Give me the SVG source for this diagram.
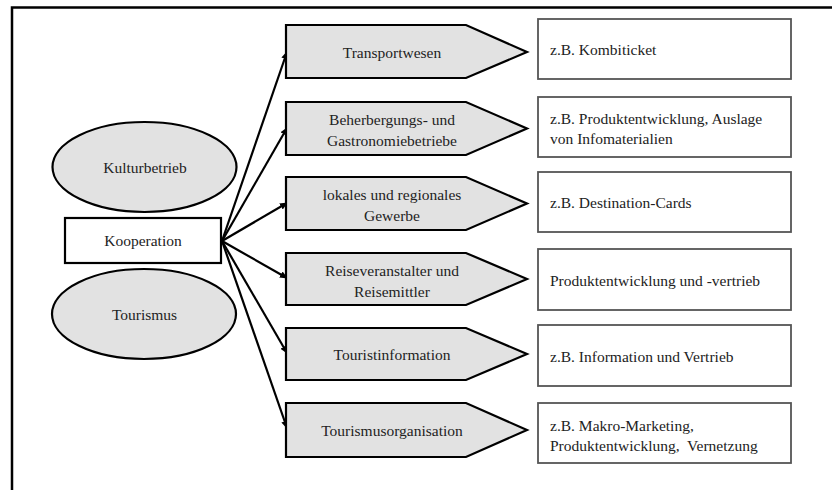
<svg xmlns="http://www.w3.org/2000/svg" width="832" height="490" viewBox="0 0 832 490">
<style>
text{font-family:"Liberation Serif","Times New Roman",serif;font-size:15.5px;fill:#222}
.c{text-anchor:middle}
.sh{fill:#e2e2e2;stroke:#000;stroke-width:2.2}
.bx{fill:#fff;stroke:#555;stroke-width:1.8}
.ln{stroke:#000;stroke-width:2.2;fill:none;marker-end:url(#ah)}
</style>
<defs>
<marker id="ah" markerWidth="8" markerHeight="8" refX="7" refY="4" orient="auto" markerUnits="userSpaceOnUse">
<path d="M0,0.5 L8,4 L0,7.5 Z" fill="#000"/>
</marker>
</defs>
<rect width="832" height="490" fill="#fff"/>
<g id="frame"><path d="M12,490 V7.5 H832" fill="none" stroke="#000" stroke-width="2.5"/></g>

<g id="connectors">
<line class="ln" x1="222" y1="241" x2="287" y2="52"/>
<line class="ln" x1="222" y1="241" x2="287" y2="128"/>
<line class="ln" x1="222" y1="241" x2="287" y2="203"/>
<line class="ln" x1="222" y1="241" x2="287" y2="278"/>
<line class="ln" x1="222" y1="241" x2="287" y2="353"/>
<line class="ln" x1="222" y1="241" x2="287" y2="428"/>
</g>

<g id="kulturbetrieb"><ellipse class="sh" cx="144.5" cy="167" rx="92" ry="45"/><text class="c" x="145" y="173">Kulturbetrieb</text></g>
<g id="kooperation"><rect x="65" y="218" width="156" height="45" fill="#fff" stroke="#000" stroke-width="2.2"/><text class="c" x="143" y="246">Kooperation</text></g>
<g id="tourismus"><ellipse class="sh" cx="144" cy="314" rx="92" ry="45"/><text class="c" x="144.5" y="320">Tourismus</text></g>

<g id="p1"><polygon class="sh" points="286,25 466,25 527,52 466,78 286,78"/><text class="c" x="392" y="58">Transportwesen</text></g>
<g id="p2"><polygon class="sh" points="286,102 466,102 527,128.5 466,155 286,155"/><text class="c" x="392" y="125">Beherbergungs- und</text><text class="c" x="392" y="146">Gastronomiebetriebe</text></g>
<g id="p3"><polygon class="sh" points="286,177 466,177 527,203.5 466,230 286,230"/><text class="c" x="392" y="200">lokales und regionales</text><text class="c" x="392" y="221">Gewerbe</text></g>
<g id="p4"><polygon class="sh" points="286,253 466,253 527,279 466,305 286,305"/><text class="c" x="392" y="276">Reiseveranstalter und</text><text class="c" x="392" y="297">Reisemittler</text></g>
<g id="p5"><polygon class="sh" points="286,328 466,328 527,354 466,380 286,380"/><text class="c" x="392" y="360">Touristinformation</text></g>
<g id="p6"><polygon class="sh" points="286,403 466,403 527,430 466,457 286,457"/><text class="c" x="392" y="436">Tourismusorganisation</text></g>

<g id="b1"><rect class="bx" x="538" y="19" width="253" height="60"/><text x="550" y="55">z.B. Kombiticket</text></g>
<g id="b2"><rect class="bx" x="538" y="97" width="253" height="60"/><text x="550" y="124">z.B. Produktentwicklung, Auslage</text><text x="550" y="144">von Infomaterialien</text></g>
<g id="b3"><rect class="bx" x="538" y="172" width="253" height="60"/><text x="550" y="208">z.B. Destination-Cards</text></g>
<g id="b4"><rect class="bx" x="538" y="249" width="253" height="61"/><text x="550" y="286">Produktentwicklung und -vertrieb</text></g>
<g id="b5"><rect class="bx" x="538" y="325" width="253" height="61"/><text x="550" y="362">z.B. Information und Vertrieb</text></g>
<g id="b6"><rect class="bx" x="538" y="403" width="253" height="60"/><text x="550" y="431">z.B. Makro-Marketing,</text><text x="550" y="451">Produktentwicklung,&#160; Vernetzung</text></g>
</svg>
